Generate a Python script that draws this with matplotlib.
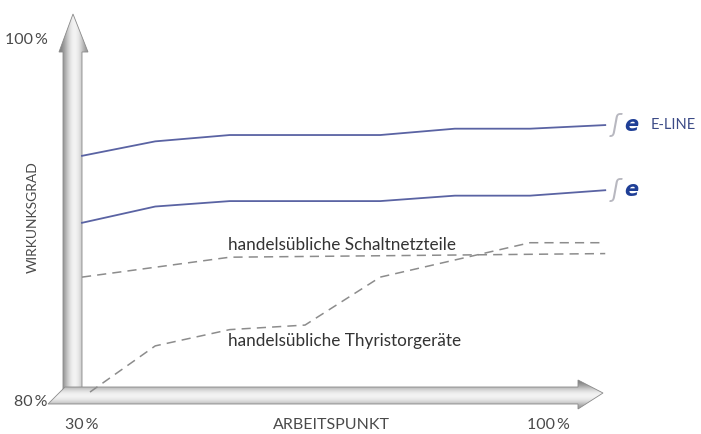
import matplotlib
matplotlib.use("Agg")
import matplotlib.pyplot as plt
import numpy as np
from matplotlib.patches import Polygon

# =========================================================
# DATA (Arbeitspunkt in %, Wirkungsgrad in %)
# =========================================================
x_points = [30, 41, 52.2, 63.5, 74.8, 86, 97.3, 108.6]

eline = [93.6, 94.4, 94.75, 94.75, 94.75, 95.1, 95.1, 95.3]
standard = [89.9, 90.8, 91.1, 91.1, 91.1, 91.4, 91.4, 91.7]

schalt_x = [30, 52.2, 108.6]
schalt = [86.9, 88.0, 88.2]

thyr_x = [31.2, 41, 52.2, 63.5, 74.8, 97.3, 108.6]
thyr = [80.55, 83.1, 84.0, 84.25, 86.9, 88.8, 88.8]

# pixel -> data mapping helpers (figure is 701 x 434 px)
W, H = 701, 434


def px_x(p):
    return 30 + (p - 82) / 6.657


def px_y(p):
    return 80 + (402 - p) / 18.1


fig = plt.figure(figsize=(W / 100, H / 100), dpi=100)
ax = fig.add_axes([0, 0, 1, 1])
ax.set_xlim(px_x(0), px_x(W))
ax.set_ylim(px_y(H), px_y(0))
ax.axis('off')


# =========================================================
# 3D-LOOKING AXIS ARROWS
# =========================================================
def gradient_poly(pts, vertical, z=1):
    poly = Polygon([(px_x(a), px_y(b)) for a, b in pts], closed=True,
                   facecolor='none', edgecolor='#8a8a8a', lw=0.6, zorder=z + 1)
    ax.add_patch(poly)
    g = np.array([0.5, 0.72, 0.93, 0.97, 0.85, 0.6])
    if vertical:
        img = np.tile(g, (2, 1))
    else:
        img = np.tile(g[:, None], (1, 2))
    xs = [px_x(a) for a, b in pts]
    ys = [px_y(b) for a, b in pts]
    im = ax.imshow(img, cmap='gray', vmin=0, vmax=1, interpolation='bicubic',
                   extent=(min(xs), max(xs), min(ys), max(ys)),
                   aspect='auto', zorder=z)
    im.set_clip_path(poly)


# vertical arrow
gradient_poly([(63, 402), (63, 52), (59, 52), (73, 14), (88, 52),
               (82, 52), (82, 388)], vertical=True, z=1)
# horizontal arrow
gradient_poly([(48, 404), (65, 387), (578, 387), (578, 380), (603, 393),
               (578, 409), (578, 404)], vertical=False, z=2)

ax.set_xlim(px_x(0), px_x(W))
ax.set_ylim(px_y(H), px_y(0))

# =========================================================
# LINES
# =========================================================
blue = '#5a63a3'
gray = '#8c8c8c'

ax.plot(x_points, eline, color=blue, lw=1.3, zorder=5)
ax.plot(x_points, standard, color=blue, lw=1.3, zorder=5)
ax.plot(schalt_x, schalt, color=gray, lw=1.1, ls=(0, (6, 4)), zorder=5)
ax.plot(thyr_x, thyr, color=gray, lw=1.1, ls=(0, (6, 4)), zorder=5)

# =========================================================
# TEXT
# =========================================================
font = 'Lato'
tc = '#4a4a4a'

ax.text(px_x(228), px_y(245), 'handelsübliche Schaltnetzteile', fontsize=12.3,
        family=font, color='#333333', va='center', ha='left')
ax.text(px_x(228), px_y(341), 'handelsübliche Thyristorgeräte', fontsize=12.3,
        family=font, color='#333333', va='center', ha='left')

ax.text(px_x(48), px_y(40), '100\u2009%', fontsize=11.5, family=font, color=tc,
        va='center', ha='right')
ax.text(px_x(47), px_y(402), '80\u2009%', fontsize=11.5, family=font, color=tc,
        va='center', ha='right')
ax.text(px_x(33), px_y(217), 'WIRKUNKSGRAD', fontsize=10, family=font, color=tc,
        va='center', ha='center', rotation=90)
ax.text(px_x(82), px_y(425), '30\u2009%', fontsize=11.5, family=font, color=tc,
        va='center', ha='center')
ax.text(px_x(548), px_y(425), '100\u2009%', fontsize=11.5, family=font, color=tc,
        va='center', ha='center')
ax.text(px_x(331), px_y(425), 'ARBEITSPUNKT', fontsize=11.5, family=font, color=tc,
        va='center', ha='center')

# logos
for yy in (eline[-1], standard[-1]):
    ax.text(px_x(612), yy + 0.02, 'ʃ', fontsize=17, family='DejaVu Sans',
            color='#b8b8c0', style='italic', va='center', ha='left')
    ax.text(px_x(624), yy + 0.02, 'e', fontsize=15, family='DejaVu Sans',
            color='#1f3f96', weight='bold', style='italic', va='center', ha='left')

ax.text(px_x(651), eline[-1] + 0.02, 'E-LINE', fontsize=10.5, family=font,
        color='#3b4a86', va='center', ha='left')

plt.savefig("out.png", dpi=100)
plt.close()
